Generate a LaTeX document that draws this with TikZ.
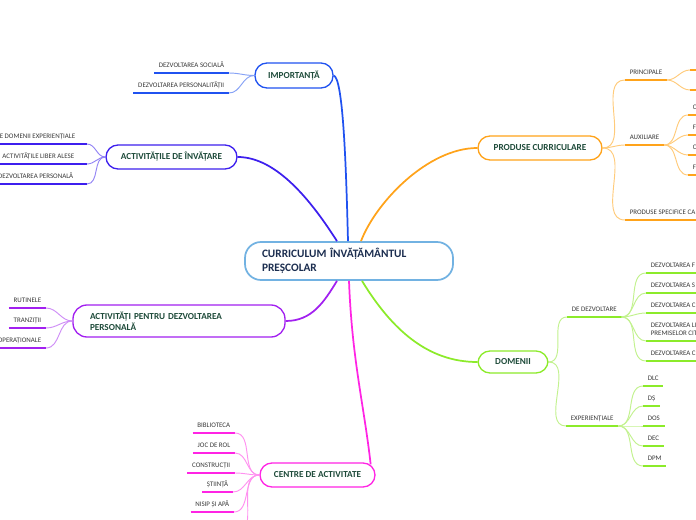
\documentclass[tikz,border=0pt]{standalone}
\usepackage{fontspec}
\setmainfont{Carlito}
\usetikzlibrary{calc}
\definecolor{cImp}{HTML}{2052F0}
\definecolor{cImpL}{HTML}{86A2F6}
\definecolor{cAct}{HTML}{3D1FEE}
\definecolor{cActL}{HTML}{9384F5}
\definecolor{cApd}{HTML}{A220F0}
\definecolor{cApdL}{HTML}{CF8EF7}
\definecolor{cCen}{HTML}{FF24E4}
\definecolor{cCenL}{HTML}{FF92F0}
\definecolor{cProd}{HTML}{FFA31A}
\definecolor{cProdL}{HTML}{FFCB7A}
\definecolor{cDom}{HTML}{8CEB2A}
\definecolor{cDomL}{HTML}{C2F28E}
\definecolor{cMain}{HTML}{72B2E2}
\definecolor{txtNode}{HTML}{1E4B3A}
\definecolor{txtMain}{HTML}{1B2D4F}
\definecolor{txtLeaf}{HTML}{383838}
\newcommand\leaffont{\fontsize{5.2}{5.6}\selectfont}
\newcommand\leafR[5]{\node[leafR] (#1) at (#2,#3) {#4};\draw[uline,#5] (#1.south west) -- (#1.south east);}
\newcommand\leafL[5]{\node[leafL] (#1) at (#2,#3) {#4};\draw[uline,#5] (#1.south west) -- (#1.south east);}
\newcommand\leafE[5]{\node[leafR] (#1) at (#2,#3) {#4};\draw[uline,#5] (#1.south west) -- (#1.south west -| edgeR);}
\newcommand\leafW[5]{\node[leafL] (#1) at (#2,#3) {#4};\draw[uline,#5] (#1.south east) -- (#1.south east -| edgeL);}
\begin{document}
\begin{tikzpicture}[x=0.75pt,y=-0.75pt,
  mainbox/.style={draw=cMain, line width=1.3pt, rounded corners=12pt, fill=white,
    minimum width=156pt, minimum height=28.5pt, text width=130.5pt, align=left,
    inner xsep=12.75pt, inner ysep=0pt, font=\fontsize{8.5}{10.5}\selectfont\bfseries, text=txtMain},
  branch/.style={draw, line width=1pt, rounded corners=9pt, fill=white, inner sep=0pt,
    font=\fontsize{6.9}{8.6}\selectfont\bfseries, text=txtNode},
  leafR/.style={anchor=south west, font=\leaffont, text=txtLeaf, inner xsep=3.4pt,
    inner ysep=4pt, text depth=0pt, align=left},
  leafL/.style={leafR, anchor=south east},
  uline/.style={line width=1.3pt},
  twig/.style={line width=0.7pt},
  main/.style={line width=1.3pt}]
\useasboundingbox (0,0) rectangle (696,520);
\clip (0,0) rectangle (696,520);
\fill[white] (0,0) rectangle (696,520);
\coordinate (edgeR) at (704,0);
\coordinate (edgeL) at (-8,0);

% central node
\node[mainbox] (c) at (349,261) {CURRICULUM ÎNVĂȚĂMÂNTUL\\PREȘCOLAR};
\coordinate (cI) at ($(c.north)+(-1,0)$);
\coordinate (cA) at ($(c.north)+(-12,0)$);
\coordinate (cP) at ($(c.north)+(12,0)$);
\coordinate (cD) at ($(c.south)+(-12,0)$);
\coordinate (cC) at ($(c.south)+(0,0)$);
\coordinate (cO) at ($(c.south)+(13,0)$);

% branch nodes
\node[branch, draw=cImp, minimum width=58.5pt, minimum height=18.75pt] (imp) at (294,75.5) {IMPORTANȚĂ};
\node[branch, draw=cAct, minimum width=98.25pt, minimum height=18pt] (act) at (171.5,157) {ACTIVITĂȚILE DE ÎNVĂȚARE};
\node[branch, draw=cApd, rounded corners=10.5pt, minimum width=159pt, minimum height=24pt, text width=133.5pt, align=left] (apd) at (179,321) {ACTIVITĂȚI PENTRU DEZVOLTAREA\\PERSONALĂ};
\node[branch, draw=cCen, minimum width=86.25pt, minimum height=18pt] (cen) at (317.5,475) {CENTRE DE ACTIVITATE};
\node[branch, draw=cProd, minimum width=93pt, minimum height=18pt] (prod) at (540,148) {PRODUSE CURRICULARE};
\node[branch, draw=cDom, minimum width=52.5pt, minimum height=16.5pt] (dom) at (513,362) {DOMENII};
\coordinate (cenT) at ($(cen.north east)+(-5,2)$);

% main connectors
\draw[main, cImp] (imp.east) .. controls (343,78) and (346,162) .. (cI);
\draw[main, cAct] (act.east) .. controls (277,157) and (312,202) .. (cA);
\draw[main, cProd] (prod.west) .. controls (428,148) and (376,202) .. (cP);
\draw[main, cApd] (apd.east) .. controls (312,321) and (324,302) .. (cD);
\draw[main, cCen] (cC) .. controls (352,360) and (364,405) .. (cenT);
\draw[main, cDom] (cO) .. controls (392,330) and (428,362) .. (dom.west);

% IMPORTANTA leaves
\leafL{soc}{229}{73}{DEZVOLTAREA SOCIALĂ}{cImp}
\leafL{pers}{229}{93}{DEZVOLTAREA PERSONALITĂȚII}{cImp}
\draw[twig, cImpL] (imp.west) to[out=180,in=0] (soc.south east);
\draw[twig, cImpL] (imp.west) to[out=180,in=0] (pers.south east);

% ACTIVITATILE DE INVATARE leaves
\node[leafL] (a1) at (80,144) {E DOMENII EXPERIENȚIALE};
\node[leafL] (a2) at (79,164) {ACTIVITĂȚILE LIBER ALESE};
\node[leafL] (a3) at (78,184) {DEZVOLTAREA PERSONALĂ};
\coordinate (a1e) at (87,144);
\coordinate (a2e) at (87,164);
\coordinate (a3e) at (87,184);
\draw[uline, cAct] (a1e) -- (a1e -| edgeL);
\draw[uline, cAct] (a2e) -- (a2e -| edgeL);
\draw[uline, cAct] (a3e) -- (a3e -| edgeL);
\draw[twig, cActL] (act.west) to[out=180,in=0] (a1e);
\draw[twig, cActL] (act.west) to[out=180,in=0] (a2e);
\draw[twig, cActL] (act.west) to[out=180,in=0] (a3e);

% ACTIVITATI PENTRU DEZVOLTAREA PERSONALA leaves
\leafL{r1}{46}{308}{RUTINELE}{cApd}
\leafL{r2}{46}{328}{TRANZIȚII}{cApd}
\leafW{r3}{46}{348}{OPERAȚIONALE}{cApd}
\draw[twig, cApdL] (apd.west) to[out=180,in=0] (r1.south east);
\draw[twig, cApdL] (apd.west) to[out=180,in=0] (r2.south east);
\draw[twig, cApdL] (apd.west) to[out=180,in=0] (r3.south east);

% CENTRE DE ACTIVITATE leaves
\leafL{b1}{235}{433}{BIBLIOTECA}{cCen}
\leafL{b2}{235}{453}{JOC DE ROL}{cCen}
\leafL{b3}{235}{473}{CONSTRUCȚII}{cCen}
\leafL{b4}{233}{492}{ȘTIINȚĂ}{cCen}
\leafL{b5}{234}{512}{NISIP ȘI APĂ}{cCen}
\coordinate (b6) at (236,534);
\draw[twig, cCenL] (cen.west) to[out=180,in=0] (b1.south east);
\draw[twig, cCenL] (cen.west) to[out=180,in=0] (b2.south east);
\draw[twig, cCenL] (cen.west) to[out=180,in=0] (b3.south east);
\draw[twig, cCenL] (cen.west) to[out=180,in=0] (b4.south east);
\draw[twig, cCenL] (cen.west) to[out=180,in=0] (b5.south east);
\draw[twig, cCenL] (cen.west) to[out=180,in=0] (b6);

% PRODUSE CURRICULARE leaves
\leafR{prin}{625}{80}{PRINCIPALE}{cProd}
\leafR{aux}{625}{145}{AUXILIARE}{cProd}
\leafE{spec}{625}{220}{PRODUSE SPECIFICE CA}{cProd}
\draw[twig, cProdL] (prod.east) to[out=0,in=180] (prin.south west);
\draw[twig, cProdL] (prod.east) to[out=0,in=180] (aux.south west);
\draw[twig, cProdL] (prod.east) to[out=0,in=180] (spec.south west);
\coordinate (pr1) at (690,70);
\coordinate (pr2) at (690,90);
\draw[uline, cProd] (pr1) -- (pr1 -| edgeR);
\draw[uline, cProd] (pr2) -- (pr2 -| edgeR);
\draw[twig, cProdL] (prin.south east) to[out=0,in=180] (pr1);
\draw[twig, cProdL] (prin.south east) to[out=0,in=180] (pr2);
\leafE{x1}{688}{115}{C}{cProd}
\leafE{x2}{688}{135}{F}{cProd}
\leafE{x3}{688}{155}{C}{cProd}
\leafE{x4}{688}{175}{F}{cProd}
\draw[twig, cProdL] (aux.south east) to[out=0,in=180] (x1.south west);
\draw[twig, cProdL] (aux.south east) to[out=0,in=180] (x2.south west);
\draw[twig, cProdL] (aux.south east) to[out=0,in=180] (x3.south west);
\draw[twig, cProdL] (aux.south east) to[out=0,in=180] (x4.south west);

% DOMENII leaves
\leafR{dez}{567}{317}{DE DEZVOLTARE}{cDom}
\leafR{exp}{566}{426}{EXPERIENȚIALE}{cDom}
\draw[twig, cDomL] (dom.east) to[out=0,in=180] (dez.south west);
\draw[twig, cDomL] (dom.east) to[out=0,in=180] (exp.south west);
\leafE{d1}{646}{273}{DEZVOLTAREA F}{cDom}
\leafE{d2}{646}{293}{DEZVOLTAREA S}{cDom}
\leafE{d3}{646}{313}{DEZVOLTAREA C}{cDom}
\leafE{d4}{646}{341}{DEZVOLTAREA LI\\PREMISELOR CITI}{cDom}
\leafE{d5}{646}{361}{DEZVOLTAREA C}{cDom}
\foreach \n in {d1,d2,d3,d4,d5}
  \draw[twig, cDomL] (dez.south east) to[out=0,in=180] (\n.south west);
\leafR{e1}{643}{386}{DLC}{cDom}
\leafR{e2}{643}{406}{DȘ}{cDom}
\leafR{e3}{643}{426}{DOS}{cDom}
\leafR{e4}{643}{446}{DEC}{cDom}
\leafR{e5}{643}{466}{DPM}{cDom}
\foreach \n in {e1,e2,e3,e4,e5}
  \draw[twig, cDomL] (exp.south east) to[out=0,in=180] (\n.south west);
\end{tikzpicture}
\end{document}
